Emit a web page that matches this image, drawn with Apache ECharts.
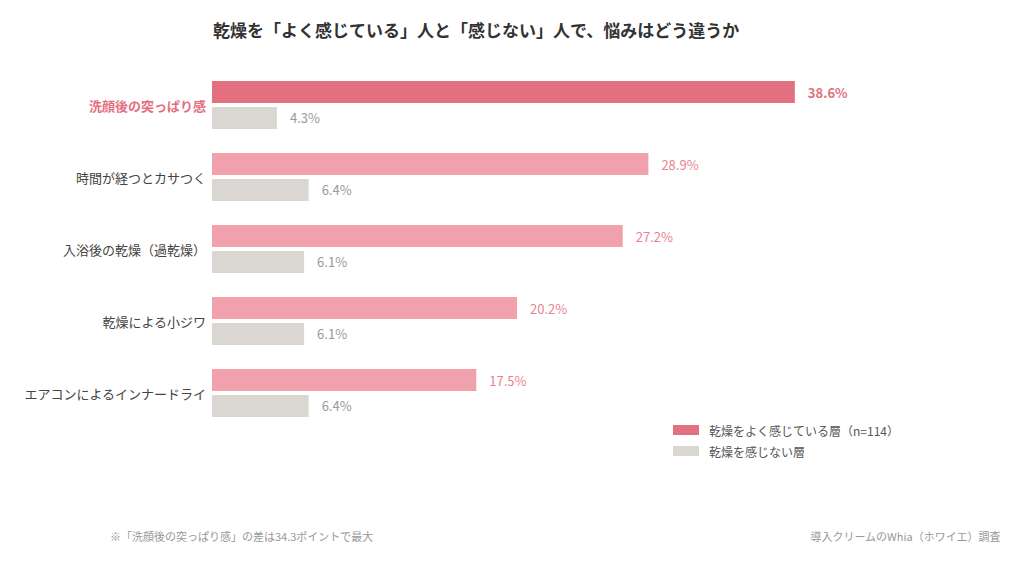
<!DOCTYPE html>
<html>
<head>
<meta charset="utf-8">
<script src="https://cdn.jsdelivr.net/npm/echarts@6/dist/echarts.min.js"></script>
<style>
  html, body { margin: 0; padding: 0; background: #fff; }
  #chart { width: 1024px; height: 565px; }
</style>
</head>
<body>
<div id="chart"></div>
<script>
(function() {
  var categories = ['洗顔後の突っぱり感', '時間が経つとカサつく', '入浴後の乾燥（過乾燥）', '乾燥による小ジワ', 'エアコンによるインナードライ'];
  var feelValues = [38.6, 28.9, 27.2, 20.2, 17.5];
  var noFeelValues = [4.3, 6.4, 6.1, 6.1, 6.4];
  var seriesNames = ['乾燥をよく感じている層（n=114）', '乾燥を感じない層'];

  var font = '"Noto Sans CJK JP", "Noto Sans", sans-serif';
  var strong = '#e3707e';
  var soft = '#f0a1ab';
  var gray = '#dad6d1';

  var chart = echarts.init(document.getElementById('chart'), null, { renderer: 'svg' });

  // highlight the first category, soften the rest
  var feelData = feelValues.map(function(v, i) {
    if (i === 0) {
      return { value: v, itemStyle: { color: strong }, label: { color: strong, fontWeight: 'bold' } };
    }
    return { value: v, itemStyle: { color: soft } };
  });

  chart.setOption({
    animation: false,
    textStyle: { fontFamily: font },
    title: {
      text: '乾燥を「よく感じている」人と「感じない」人で、悩みはどう違うか',
      left: 208,
      top: 16,
      textStyle: { fontFamily: font, fontSize: 17, fontWeight: 'bold', color: '#333' }
    },
    legend: {
      data: seriesNames,
      orient: 'vertical',
      left: 668,
      top: 419,
      itemWidth: 26,
      itemHeight: 10,
      itemGap: 9,
      icon: 'rect',
      textStyle: { fontFamily: font, fontSize: 12, color: '#555', padding: [0, 0, 0, 5] }
    },
    grid: { left: 212, top: 69, width: 755, height: 360, containLabel: false },
    xAxis: {
      type: 'value',
      min: 0,
      max: 50,
      show: false
    },
    yAxis: {
      type: 'category',
      data: categories,
      inverse: true,
      axisLine: { show: false },
      axisTick: { show: false },
      axisLabel: {
        margin: 6,
        fontFamily: font,
        fontSize: 13,
        color: '#444',
        formatter: function(v, i) {
          return i === 0 ? '{hl|' + v + '}' : v;
        },
        rich: {
          hl: { fontFamily: font, fontSize: 13, fontWeight: 'bold', color: strong }
        }
      }
    },
    graphic: [
      {
        type: 'text', left: 110, top: 530,
        style: { text: '※「洗顔後の突っぱり感」の差は34.3ポイントで最大', font: '11px ' + font, fill: '#999' }
      },
      {
        type: 'text', right: 23, top: 530,
        style: { text: '導入クリームのWhia（ホワイエ）調査', font: '11px ' + font, fill: '#999' }
      }
    ],
    series: [
      {
        name: seriesNames[0],
        type: 'bar',
        data: feelData,
        barWidth: 22,
        barGap: '18%',
        itemStyle: { color: strong },
        label: {
          show: true,
          position: 'right',
          distance: 13,
          fontFamily: font,
          fontSize: 13,
          color: '#e8838f',
          formatter: function(p) { return p.value.toFixed(1) + '%'; }
        }
      },
      {
        name: seriesNames[1],
        type: 'bar',
        data: noFeelValues,
        barWidth: 22,
        itemStyle: { color: gray },
        label: {
          show: true,
          position: 'right',
          distance: 13,
          fontFamily: font,
          fontSize: 13,
          color: '#999',
          formatter: function(p) { return p.value.toFixed(1) + '%'; }
        }
      }
    ]
  });
  window.addEventListener('resize', function() { chart.resize(); });
})();
</script>
</body>
</html>
